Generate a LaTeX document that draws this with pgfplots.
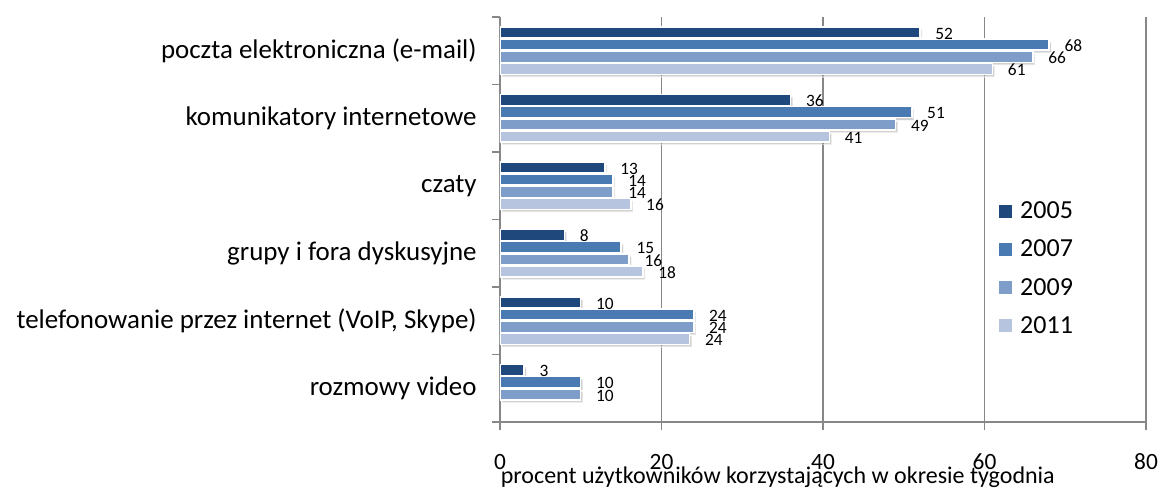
\documentclass[border=0pt]{standalone}
\usepackage{fontspec}
\setmainfont{Carlito}
\usepackage{pgfplots}
\pgfplotsset{compat=1.18}
\usetikzlibrary{shadows}
\definecolor{cA}{HTML}{1F497D}
\definecolor{cB}{HTML}{4A7AB2}
\definecolor{cC}{HTML}{7E9DC8}
\definecolor{cD}{HTML}{B6C4E0}
\definecolor{gridgray}{HTML}{878787}

\pgfplotsset{
  barsty/.style 2 args={xbar, bar width=0.163, draw=white, line width=1.1pt,
    fill=#1,
    drop shadow={shadow xshift=1.6pt, shadow yshift=-2pt, fill=black!40, opacity=0.45},
    every node near coord/.append style={yshift=#2}},
  legsq/.style={legend image code/.code={
    \fill[##1, draw=none] (0pt,-4.9pt) rectangle (9.8pt,4.9pt);
    \path (13.5pt,0pt);}},
}

\begin{document}
\begin{tikzpicture}
\useasboundingbox (0,0) rectangle (870pt,366pt);
\begin{axis}[
  at={(375pt,49.5pt)}, anchor=south west,
  scale only axis, width=484.5pt, height=303.75pt,
  xmin=0, xmax=80, ymin=-0.5, ymax=5.5, y dir=reverse,
  axis x line=bottom, axis y line=left,
  axis line style={-, draw=gridgray, line width=1pt},
  xtick={0,20,40,60,80},
  xmajorgrids, grid style={gridgray, line width=1pt},
  ytick={0,...,5},
  yticklabels={poczta elektroniczna (e-mail), komunikatory internetowe, czaty,
    grupy i fora dyskusyjne, {telefonowanie przez internet (VoIP, Skype)}, rozmowy video},
  minor ytick={-0.5,0.5,...,5.5},
  major y tick style={draw=none},
  minor y tick style={gridgray, line width=1pt},
  major x tick style={gridgray, line width=1pt},
  tick align=outside, major tick length=6pt, minor tick length=6pt,
  /pgf/number format/assume math mode=true,
  xticklabel style={font=\fontsize{17.5}{20}\selectfont, yshift=-14.5pt},
  yticklabel style={font=\fontsize{20.2}{23}\selectfont, xshift=-8pt},
  xlabel={procent użytkowników korzystających w okresie tygodnia},
  xlabel style={font=\fontsize{18}{21}\selectfont, at={(axis description cs:0.430,0)}, anchor=base, yshift=-45.75pt},
  point meta=explicit symbolic,
  nodes near coords,
  nodes near coords style={font=\fontsize{13}{15}\selectfont, anchor=west, inner sep=0pt, xshift=11pt, text=black},
  legend style={at={(axis cs:61.8,3.226)}, anchor=west, draw=none, fill=none, inner sep=0pt,
    font=\fontsize{19.5}{22}\selectfont, row sep=10.5pt},
  legend cell align=left,
]
\addlegendimage{legsq, fill=cA}\addlegendentry{2005}
\addlegendimage{legsq, fill=cB}\addlegendentry{2007}
\addlegendimage{legsq, fill=cC}\addlegendentry{2009}
\addlegendimage{legsq, fill=cD}\addlegendentry{2011}

\addplot[barsty={cA}{12.9pt}, bar shift=-0.271, forget plot] coordinates {
  (52,0)[52] (36,1)[36] (13,2)[13] (8,3)[8] (10,4)[10] (3,5)[3]};
\addplot[barsty={cB}{3.8pt}, bar shift=-0.0904, forget plot] coordinates {
  (68,0)[68] (51,1)[51] (14,2)[14] (15,3)[15] (24,4)[24] (10,5)[10]};
\addplot[barsty={cC}{-5.4pt}, bar shift=0.0904, forget plot] coordinates {
  (66,0)[66] (49,1)[49] (14,2)[14] (16,3)[16] (24,4)[24] (10,5)[10]};
\addplot[barsty={cD}{-14.5pt}, bar shift=0.271, forget plot] coordinates {
  (61,0)[61] (40.8,1)[41] (16.2,2)[16] (17.7,3)[18] (23.5,4)[24]};
\end{axis}
\end{tikzpicture}
\end{document}
